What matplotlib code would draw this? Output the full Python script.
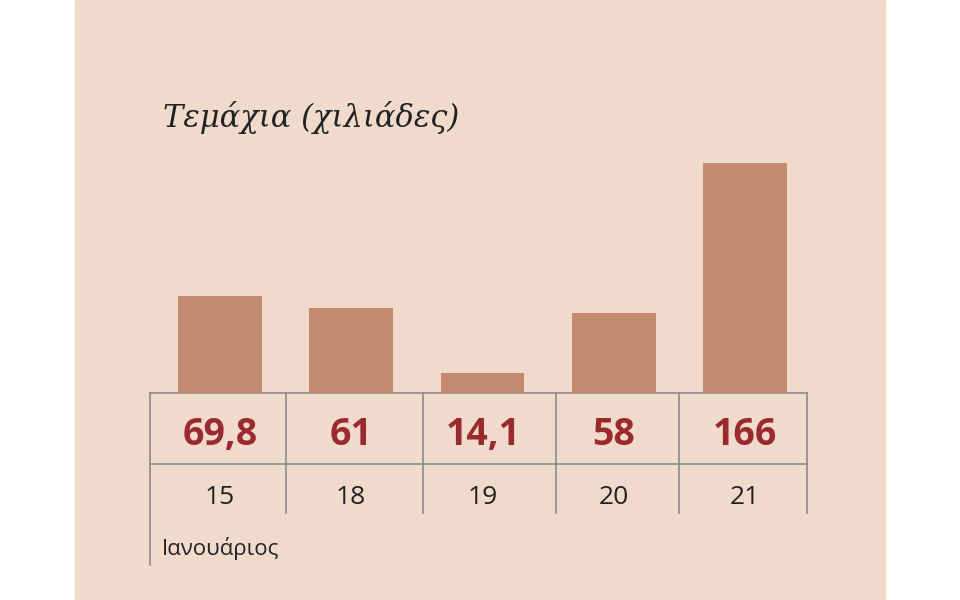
import matplotlib
matplotlib.use("Agg")
import matplotlib.pyplot as plt

days = ["15", "18", "19", "20", "21"]
values = [69.8, 61, 14.1, 58, 166]
value_labels = ["69,8", "61", "14,1", "58", "166"]
title = "Τεμάχια (χιλιάδες)"
month = "Ιανουάριος"

BG = "#f0dacb"; BAR = "#c38a6f"; RED = "#9b2a30"; LINE = "#8a8a8a"
W, H = 960, 600
fig = plt.figure(figsize=(W/100, H/100), dpi=100)
fig.patch.set_facecolor("white")

# overlay axes in pixel coords
ov = fig.add_axes([0, 0, 1, 1])
ov.set_xlim(0, W); ov.set_ylim(H, 0); ov.axis("off")
ov.add_patch(plt.Rectangle((75, 0), 810, 600, color=BG, zorder=0))

# bar axes
x0, x1 = 154.4, 810.6
base, top = 393, 163
ax = fig.add_axes([x0/W, (H-base)/H, (x1-x0)/W, (base-top)/H])
ax.patch.set_alpha(0)
ax.bar(range(len(values)), values, width=0.64, color=BAR, zorder=2)
ax.set_xlim(-0.5, len(values)-0.5); ax.set_ylim(0, 166)
ax.axis("off")

# grid
vx = [150, 286, 423, 556, 679, 807]
for i, x in enumerate(vx):
    ov.plot([x, x], [393, 565 if i == 0 else 513], color=LINE, lw=1.2, zorder=1)
for y in (393, 464):
    ov.plot([150, 807], [y, y], color=LINE, lw=1.2, zorder=1)

centers = [220, 351, 483, 614, 745]
for cx, vl, d in zip(centers, value_labels, days):
    ov.text(cx, 435, vl, ha="center", va="center", fontsize=27, fontweight="bold",
            color=RED, family="Open Sans")
    ov.text(cx, 497, d, ha="center", va="center", fontsize=19, color="#222222",
            family="Open Sans")
ov.text(162, 549, month, ha="left", va="center", fontsize=16, color="#222222", family="Open Sans")
ov.text(163, 117, title, ha="left", va="center", fontsize=22, style="italic",
        color="#222222", family="DejaVu Serif")

fig.savefig("out.png", dpi=100)
